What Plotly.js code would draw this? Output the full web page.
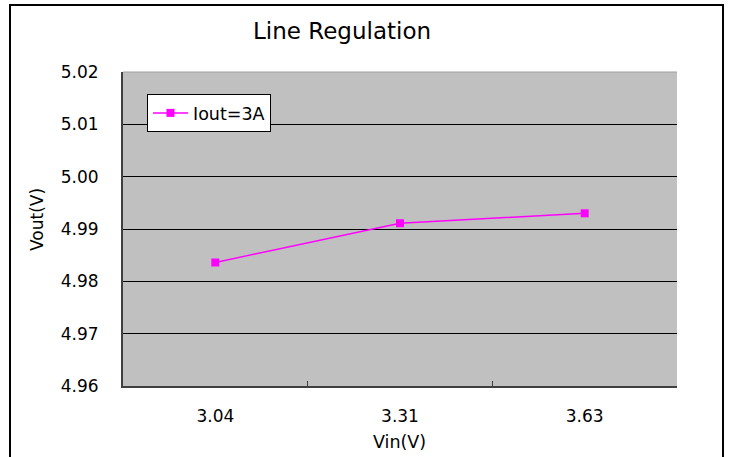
<!DOCTYPE html>
<html>
<head>
<meta charset="utf-8">
<script src="https://cdn.plot.ly/plotly-3.0.1.min.js"></script>
<style>
  html, body { margin: 0; padding: 0; background: #fff; }
  #chart { width: 730px; height: 457px; }
</style>
</head>
<body>
<div id="chart"></div>
<script>
// Input voltage categories and measured output voltage at 3 A load
const vinLabels = ['3.04', '3.31', '3.63'];
const voutValues = [4.9836, 4.9911, 4.9930];
const seriesName = 'Iout=3A';
const yTickVals = [4.96, 4.97, 4.98, 4.99, 5.00, 5.01, 5.02];
const yTickText = ['4.96', '4.97', '4.98', '4.99', '5.00', '5.01', '5.02'];

const FONT = 'DejaVu Sans, Verdana, sans-serif';
const AXIS_COLOR = '#404040';

const trace = {
  type: 'scatter',
  mode: 'lines+markers',
  name: seriesName,
  x: vinLabels,
  y: voutValues,
  line: { color: '#FF00FF', width: 1.5 },
  marker: { symbol: 'square', size: 8, color: '#FF00FF' },
  showlegend: true
};

const layout = {
  width: 730,
  height: 457,
  margin: { l: 123, r: 53, t: 72, b: 71 },
  paper_bgcolor: '#ffffff',
  plot_bgcolor: '#C0C0C0',
  font: { family: FONT, color: '#000', size: 17 },
  title: {
    text: 'Line Regulation',
    font: { family: FONT, size: 23, color: '#000' },
    x: 342 / 730,
    xanchor: 'center',
    xref: 'container',
    y: 1 - 31 / 457,
    yanchor: 'middle',
    yref: 'container'
  },
  xaxis: {
    type: 'category',
    range: [-0.5, 2.5],
    showline: true,
    linecolor: AXIS_COLOR,
    linewidth: 2,
    showgrid: false,
    zeroline: false,
    ticks: 'inside',
    tickson: 'boundaries',
    ticklen: 5,
    tickwidth: 1,
    tickcolor: AXIS_COLOR,
    ticklabelstandoff: 14,
    tickfont: { family: FONT, size: 17, color: '#000' },
    fixedrange: true
  },
  yaxis: {
    range: [4.96, 5.02],
    tickvals: yTickVals,
    ticktext: yTickText,
    showline: true,
    linecolor: AXIS_COLOR,
    linewidth: 2,
    showgrid: true,
    gridcolor: '#000000',
    gridwidth: 1,
    zeroline: false,
    ticks: '',
    ticklabelstandoff: 19,
    tickfont: { family: FONT, size: 17, color: '#000' },
    fixedrange: true
  },
  legend: {
    x: (147 - 123) / 554,
    y: (386 - 94) / 314,
    xanchor: 'left',
    yanchor: 'top',
    itemwidth: 35,
    bgcolor: '#ffffff',
    bordercolor: '#000000',
    borderwidth: 1,
    font: { family: FONT, size: 17.5, color: '#000' }
  },
  annotations: [
    {
      text: 'Vout(V)',
      xref: 'paper', yref: 'paper',
      x: (37 - 123) / 554, y: (386 - 219) / 314,
      xanchor: 'center', yanchor: 'middle',
      textangle: -90,
      showarrow: false,
      font: { family: FONT, size: 17, color: '#000' }
    },
    {
      text: 'Vin(V)',
      xref: 'paper', yref: 'paper',
      x: (399 - 123) / 554, y: (386 - 442) / 314,
      xanchor: 'center', yanchor: 'middle',
      showarrow: false,
      font: { family: FONT, size: 17.5, color: '#000' }
    }
  ],
  shapes: [
    {
      // light top edge of the plot area
      type: 'line',
      xref: 'paper', yref: 'paper',
      x0: 0, x1: 1, y0: 1, y1: 1,
      line: { color: '#A0A0A0', width: 1 },
      layer: 'above'
    },
    {
      // outer chart frame
      type: 'rect',
      xref: 'paper', yref: 'paper',
      x0: (10 - 123) / 554, x1: (723 - 123) / 554,
      y0: (386 - 470) / 314, y1: (386 - 5) / 314,
      line: { color: '#000000', width: 2 },
      fillcolor: 'rgba(0,0,0,0)',
      layer: 'above'
    }
  ]
};

Plotly.newPlot('chart', [trace], layout, { displayModeBar: false, staticPlot: true });
</script>
</body>
</html>
